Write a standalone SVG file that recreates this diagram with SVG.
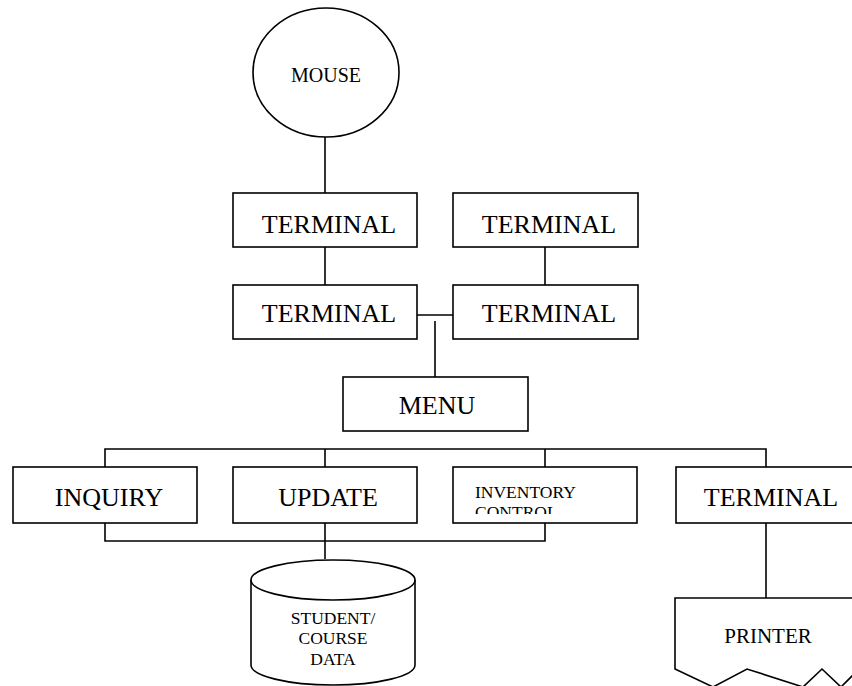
<svg xmlns="http://www.w3.org/2000/svg" width="852" height="686" viewBox="0 0 852 686">
<defs>
<style>
.s{fill:#fff;stroke:#000;stroke-width:1.6}
.c{fill:none;stroke:#000;stroke-width:1.6}
.t{font-family:"Liberation Serif","Times New Roman",serif;fill:#000;text-anchor:middle}
.big{font-size:26px}
.mid{font-size:20px}
.sm{font-size:17.5px}
</style>
<clipPath id="invclip"><rect x="453" y="467" width="184" height="47"/></clipPath>
</defs>
<rect width="852" height="686" fill="#fff"/>
<g id="connectors">
<path class="c" d="M325,137V193"/>
<path class="c" d="M325,247V285"/>
<path class="c" d="M545,247V285"/>
<path class="c" d="M417,315H453"/>
<path class="c" d="M435,321V377"/>
<path class="c" d="M105,467V449H766V467M325,449V467M545,449V467"/>
<path class="c" d="M105,523V541H545V523M325,523V559"/>
<path class="c" d="M766,523V598"/>
</g>
<g id="mouse">
<ellipse class="s" cx="326" cy="72.5" rx="73" ry="64.5"/>
<text class="t mid" x="326" y="82">MOUSE</text>
</g>
<g id="terminal1">
<rect class="s" x="233" y="193" width="184" height="54"/>
<text class="t big" x="329" y="233">TERMINAL</text>
</g>
<g id="terminal2">
<rect class="s" x="453" y="193" width="185" height="54"/>
<text class="t big" x="549" y="233">TERMINAL</text>
</g>
<g id="terminal3">
<rect class="s" x="233" y="285" width="184" height="54"/>
<text class="t big" x="329" y="322">TERMINAL</text>
</g>
<g id="terminal4">
<rect class="s" x="453" y="285" width="185" height="54"/>
<text class="t big" x="549" y="322">TERMINAL</text>
</g>
<g id="menu">
<rect class="s" x="343" y="377" width="185" height="54"/>
<text class="t big" x="437" y="414">MENU</text>
</g>
<g id="inquiry">
<rect class="s" x="13" y="467" width="184" height="56"/>
<text class="t big" x="109" y="506">INQUIRY</text>
</g>
<g id="update">
<rect class="s" x="233" y="467" width="184" height="56"/>
<text class="t big" x="328" y="506">UPDATE</text>
</g>
<g id="inventory">
<rect class="s" x="453" y="467" width="184" height="56"/>
<g clip-path="url(#invclip)">
<text class="t sm" x="475" y="498" style="text-anchor:start">INVENTORY</text>
<text class="t sm" x="475" y="518" style="text-anchor:start">CONTROL</text>
</g>
</g>
<g id="terminal5">
<rect class="s" x="676" y="467" width="200" height="56"/>
<text class="t big" x="771" y="506">TERMINAL</text>
</g>
<g id="student-course-data">
<path class="s" d="M251,580A82,20 0 0 1 415,580V665A82,20 0 0 1 251,665Z"/>
<path class="c" d="M251,580A82,20 0 0 0 415,580"/>
<text class="t sm" x="333" y="624">STUDENT/</text>
<text class="t sm" x="333" y="644">COURSE</text>
<text class="t sm" x="333" y="665">DATA</text>
</g>
<g id="printer">
<path class="s" d="M880,598H675V669L713,687L747,669L803,687L822,669L841,687L860,668"/>
<text class="t mid" x="768" y="643" style="font-size:21px">PRINTER</text>
</g>
</svg>
